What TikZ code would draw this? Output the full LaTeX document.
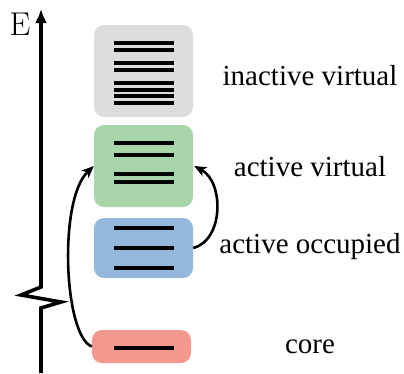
\documentclass[tikz,border=0pt]{standalone}
\usepackage{fontspec}
\setmainfont{Liberation Serif}
\newfontfamily\lmfont{Latin Modern Roman}
\usetikzlibrary{arrows.meta}
\definecolor{boxgray}{RGB}{221,221,221}
\definecolor{boxgreen}{RGB}{168,213,170}
\definecolor{boxblue}{RGB}{149,183,220}
\definecolor{boxred}{RGB}{244,152,142}
\begin{document}
\begin{tikzpicture}[x=1pt,y=-1pt,
  level/.style={draw=none,rounded corners=10pt,minimum width=99pt,inner sep=0pt},
  bar/.style={line width=3.4pt},
  lbl/.style={font=\rmfamily\fontsize{29}{34}\selectfont,anchor=base,inner sep=0pt},
  trans/.style={line width=2.6pt,-{Stealth[length=12pt,width=10pt,inset=3pt]}}]
\useasboundingbox (0,0) rectangle (404,373);
% axis
\coordinate (ab) at (41,373);
\coordinate (z1) at (41,308);
\coordinate (z2) at (61,302);
\coordinate (z3) at (21,295);
\coordinate (z4) at (41,287);
\coordinate (at) at (41,9);
\draw[line width=3.6pt,-{Latex[length=14pt,width=12pt]}] (ab) -- (z1) -- (z2) -- (z3) -- (z4) -- (at);
\node[font=\lmfont\fontsize{33}{36}\selectfont,anchor=base,inner sep=0pt] (E) at (20,35) {E};
% boxes
\node[level,fill=boxgray,minimum height=92pt] (iv) at (143.5,71) {};
\node[level,fill=boxgreen,minimum height=82pt] (av) at (143.5,166) {};
\node[level,fill=boxblue,minimum height=60pt] (ao) at (143.5,248) {};
\node[level,fill=boxred,minimum height=33pt] (co) at (141.5,346.5) {};
% bars
\foreach \y in {43,50,63,70,83,90,96,103} \draw[bar] (114,\y) -- (174,\y);
\foreach \y in {143,155,174,182} \draw[bar] (114,\y) -- (174,\y);
\foreach \y in {228,248,268} \draw[bar] (114,\y) -- (174,\y);
\draw[bar] (114,348) -- (174,348);
% labels
\node[lbl] (liv) at (310,85) {inactive virtual};
\node[lbl] (lav) at (310,176) {active virtual};
\node[lbl] (lao) at (310,253) {active occupied};
\node[lbl] (lco) at (310,353) {core};
% transitions
\draw[trans] (co.west) .. controls (64,336) and (58,200) .. (av.west);
\draw[trans] (ao.east) .. controls (224,240) and (224,182) .. ([xshift=1pt]av.east);
\end{tikzpicture}
\end{document}
